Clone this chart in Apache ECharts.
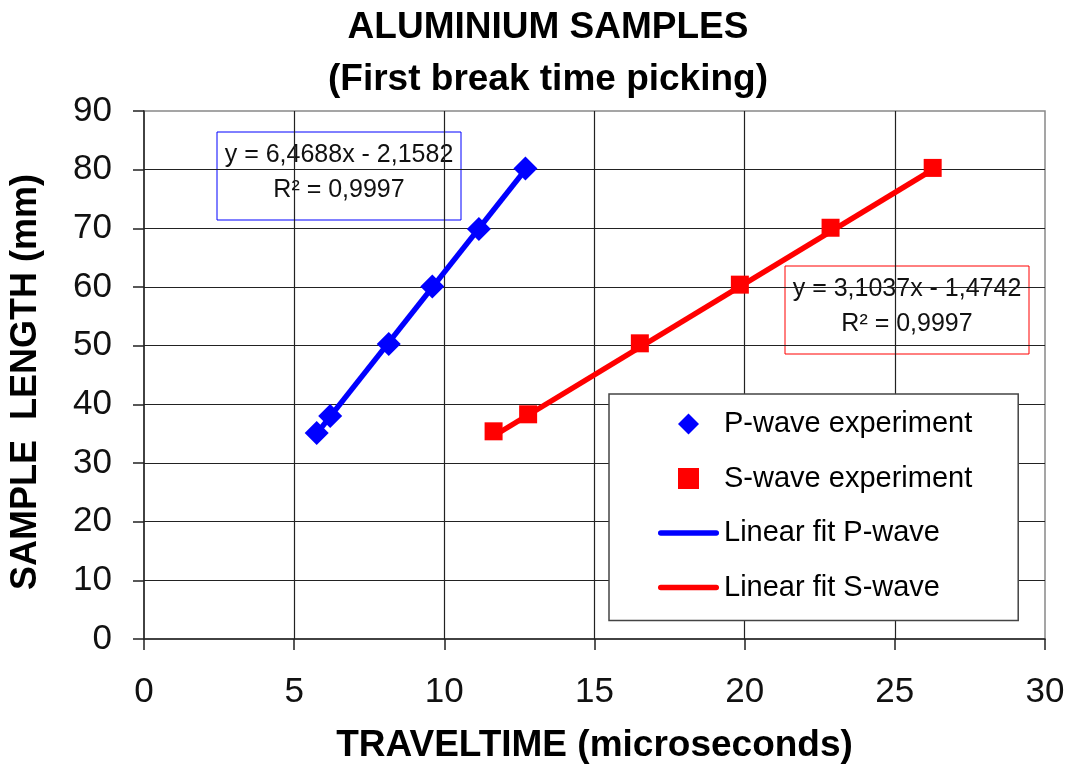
<!DOCTYPE html>
<html>
<head>
<meta charset="utf-8">
<script src="https://cdn.jsdelivr.net/npm/echarts@6/dist/echarts.min.js"></script>
<style>
html,body{margin:0;padding:0;background:#fff;}
#chart{width:1070px;height:769px;}
</style>
</head>
<body>
<div id="chart"></div>
<script>
// ---- data ----
const pTime = [5.75, 6.2, 8.15, 9.6, 11.15, 12.7];
const pLength = [35.1, 38.0, 50.3, 60.1, 69.9, 80.2];
const sTime = [11.64, 12.79, 16.51, 19.84, 22.86, 26.26];
const sLength = [35.4, 38.3, 50.4, 60.4, 70.1, 80.3];
// trend-line end points (as drawn)
const pFitTime = [5.75, 12.7];
const pFitLength = [35.0, 80.0];
const sFitTime = [11.64, 26.26];
const sFitLength = [34.6, 80.0];
const seriesNames = ['P-wave experiment', 'S-wave experiment', 'Linear fit P-wave', 'Linear fit S-wave'];
const pEquation = ['y = 6,4688x - 2,1582', 'R\u00B2 = 0,9997'];
const sEquation = ['y = 3,1037x - 1,4742', 'R\u00B2 = 0,9997'];
const titleLines = ['ALUMINIUM SAMPLES', '(First break time picking)'];
const xName = 'TRAVELTIME (microseconds)';
const yName = 'SAMPLE  LENGTH (mm)';

const zip = (a, b) => a.map((v, i) => [v, b[i]]);
const FONT = '"Liberation Sans", Arial, sans-serif';

const chart = echarts.init(document.getElementById('chart'), null, {renderer: 'canvas'});

function eqBox(x, y, w, h, color, lines) {
  return {
    type: 'group', z: 100,
    children: [
      {type: 'rect', shape: {x: x, y: y, width: w, height: h},
       style: {fill: '#fff', stroke: color, lineWidth: 1}},
      {type: 'text', x: x + w / 2, y: y + 23,
       style: {text: lines[0], fontSize: 25, fontFamily: FONT, fill: '#111', align: 'center', verticalAlign: 'middle'}},
      {type: 'text', x: x + w / 2, y: y + 58,
       style: {text: lines[1], fontSize: 25, fontFamily: FONT, fill: '#111', align: 'center', verticalAlign: 'middle'}}
    ]
  };
}

const lineIcon = 'path://M2.75,0H58.25A2.75,2.75,0,0,1,58.25,5.5H2.75A2.75,2.75,0,0,1,2.75,0Z';

const option = {
  backgroundColor: '#fff',
  animation: false,
  title: {
    text: titleLines.join('\n'),
    left: 548, top: 2, textAlign: 'center', padding: 0,
    textStyle: {fontSize: 37, fontWeight: 'bold', fontFamily: FONT, color: '#000', lineHeight: 52}
  },
  grid: {left: 142, right: 25, top: 111, bottom: 129, show: true, borderColor: '#888', borderWidth: 1.5, backgroundColor: 'transparent'},
  legend: {
    orient: 'vertical',
    left: 609, top: 394,
    padding: [15, 46, 18, 49],
    itemWidth: 61, itemHeight: 21, itemGap: 24.5,
    backgroundColor: '#fff', borderColor: '#444', borderWidth: 1.5,
    symbolKeepAspect: true,
    textStyle: {fontSize: 29, fontFamily: FONT, color: '#000', lineHeight: 30},
    data: [
      {name: seriesNames[0], icon: 'path://M10,0L20,10L10,20L0,10Z'},
      {name: seriesNames[1], icon: 'path://M0,0H20V20H0Z'},
      {name: seriesNames[2], icon: lineIcon},
      {name: seriesNames[3], icon: lineIcon}
    ],
    z: 50
  },
  xAxis: {
    type: 'value', min: 0, max: 30, interval: 5,
    name: xName, nameLocation: 'middle', nameGap: 88,
    nameTextStyle: {fontSize: 37, fontWeight: 'bold', fontFamily: FONT, color: '#000'},
    axisLine: {show: true, onZero: false, lineStyle: {color: '#222', width: 1.5}},
    axisTick: {show: true, inside: false, length: 11, lineStyle: {color: '#222', width: 1.5}},
    axisLabel: {fontSize: 35, fontFamily: FONT, color: '#111', margin: 36},
    splitLine: {show: true, showMinLine: false, showMaxLine: false, lineStyle: {color: '#222', width: 1.2}}
  },
  yAxis: {
    type: 'value', min: 0, max: 90, interval: 10,
    name: yName, nameLocation: 'middle', nameGap: 100,
    nameTextStyle: {fontSize: 36, fontWeight: 'bold', fontFamily: FONT, color: '#000', padding: [0, 14, 0, 0]},
    axisLine: {show: true, onZero: false, lineStyle: {color: '#222', width: 1.5}},
    axisTick: {show: true, inside: false, length: 11, lineStyle: {color: '#222', width: 1.5}},
    axisLabel: {fontSize: 35, fontFamily: FONT, color: '#111', margin: 32},
    splitLine: {show: true, showMinLine: false, showMaxLine: false, lineStyle: {color: '#222', width: 1.2}}
  },
  series: [
    {
      name: seriesNames[2], type: 'line', data: zip(pFitTime, pFitLength),
      symbol: 'none', lineStyle: {color: '#0000ff', width: 5.5}, itemStyle: {color: '#0000ff'}, z: 2
    },
    {
      name: seriesNames[3], type: 'line', data: zip(sFitTime, sFitLength),
      symbol: 'none', lineStyle: {color: '#ff0000', width: 5.5}, itemStyle: {color: '#ff0000'}, z: 2
    },
    {
      name: seriesNames[0], type: 'scatter', data: zip(pTime, pLength),
      symbol: 'diamond', symbolSize: 24, itemStyle: {color: '#0000ff', opacity: 1}, z: 3
    },
    {
      name: seriesNames[1], type: 'scatter', data: zip(sTime, sLength),
      symbol: 'rect', symbolSize: 18, itemStyle: {color: '#ff0000', opacity: 1}, z: 3
    }
  ],
  graphic: [
    eqBox(217, 132, 244, 88, '#0000ff', pEquation),
    eqBox(785, 266, 244, 88, '#ff0000', sEquation)
  ]
};
chart.setOption(option);
</script>
</body>
</html>
